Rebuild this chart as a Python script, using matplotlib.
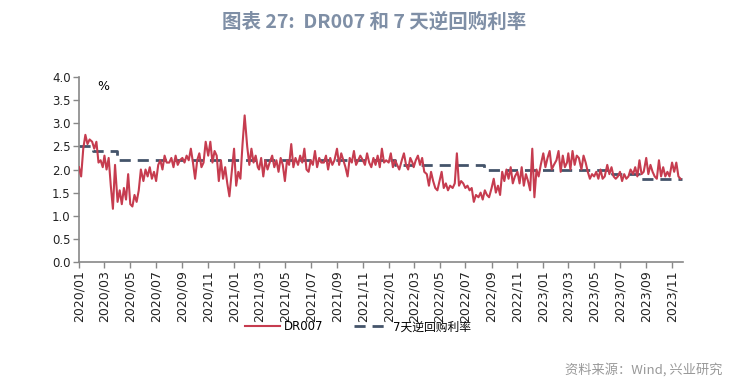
import matplotlib.pyplot as plt
import numpy as np
import pandas as pd

plt.rcParams['font.family'] = ['Noto Sans CJK SC', 'DejaVu Sans']

# DR007, six readings per month (2020/01 .. 2023/11)
dr007_months = [
    [2.05, 1.85, 2.45, 2.75, 2.55, 2.65],  # 2020/01
    [2.60, 2.45, 2.60, 2.15, 2.20, 2.05],
    [2.30, 2.00, 2.25, 1.65, 1.15, 2.10],
    [1.30, 1.55, 1.25, 1.60, 1.35, 1.90],
    [1.25, 1.20, 1.45, 1.30, 1.55, 2.00],
    [1.75, 2.00, 1.85, 2.05, 1.80, 1.95],
    [1.75, 2.10, 2.20, 2.00, 2.30, 2.15],
    [2.15, 2.25, 2.05, 2.30, 2.10, 2.20],
    [2.25, 2.15, 2.30, 2.20, 2.45, 2.15],
    [1.80, 2.20, 2.35, 2.05, 2.15, 2.60],
    [2.30, 2.60, 2.15, 2.40, 2.30, 1.75],
    [2.20, 1.80, 2.05, 1.70, 1.42, 1.90],
    [2.45, 1.65, 1.95, 1.80, 2.55, 3.17],  # 2021/01
    [2.50, 2.10, 2.45, 2.15, 2.30, 2.05],
    [2.00, 2.25, 1.85, 2.20, 2.00, 2.15],
    [2.30, 2.05, 2.20, 1.95, 2.25, 2.10],
    [1.75, 2.20, 2.10, 2.55, 2.05, 2.25],
    [2.10, 2.30, 2.15, 2.45, 2.00, 1.95],
    [2.20, 2.10, 2.40, 2.05, 2.25, 2.15],
    [2.15, 2.30, 2.00, 2.25, 2.10, 2.20],
    [2.45, 2.10, 2.35, 2.20, 2.05, 1.85],
    [2.25, 2.15, 2.40, 2.10, 2.20, 2.30],
    [2.20, 2.10, 2.35, 2.15, 2.05, 2.25],
    [2.10, 2.30, 2.05, 2.45, 2.15, 2.20],
    [2.15, 2.35, 2.05, 2.20, 2.10, 2.00],  # 2022/01
    [2.20, 2.35, 2.10, 2.00, 2.25, 2.15],
    [2.05, 2.20, 2.30, 2.10, 2.25, 1.95],
    [1.90, 1.65, 1.95, 1.75, 1.60, 1.55],
    [1.75, 1.95, 1.60, 1.70, 1.55, 1.65],
    [1.60, 1.70, 2.35, 1.65, 1.75, 1.70],
    [1.60, 1.65, 1.55, 1.60, 1.30, 1.45],
    [1.40, 1.50, 1.35, 1.55, 1.45, 1.40],
    [1.60, 1.80, 1.50, 1.65, 1.45, 1.95],
    [1.75, 2.00, 1.80, 2.05, 1.70, 1.85],
    [1.95, 1.70, 2.05, 1.65, 1.90, 1.75],
    [1.55, 2.45, 1.40, 2.00, 1.85, 2.10],
    [2.35, 2.05, 2.25, 2.40, 2.00, 2.10],  # 2023/01
    [2.20, 2.40, 1.95, 2.30, 2.05, 2.15],
    [2.35, 2.00, 2.40, 2.10, 2.30, 2.25],
    [2.00, 2.30, 2.15, 1.95, 1.80, 1.90],
    [1.85, 1.95, 1.80, 2.00, 1.80, 1.85],
    [2.10, 1.90, 2.05, 1.85, 1.80, 1.85],
    [1.95, 1.75, 1.90, 1.80, 1.85, 2.00],
    [1.90, 2.05, 1.85, 2.20, 1.90, 1.95],
    [2.25, 1.90, 2.10, 1.95, 1.85, 1.80],
    [2.20, 1.85, 2.05, 1.85, 1.95, 1.85],
    [2.15, 1.95, 2.15, 1.85, 1.80],        # 2023/11
]
reading_days = [1, 6, 11, 16, 21, 26]

# 7-day reverse repo rate, changes
repo_dates = ['2020-01-01', '2020-02-03', '2020-03-30', '2022-01-17',
              '2022-08-15', '2023-06-13', '2023-08-15', '2023-11-24']
repo_rates = [2.50, 2.40, 2.20, 2.10, 2.00, 1.90, 1.80, 1.80]

tick_labels = [f'{y}/{m:02d}' for y in range(2020, 2024) for m in range(1, 13, 2)]

dr_dates, dr_vals = [], []
for i, vals in enumerate(dr007_months):
    y, m = 2020 + i // 12, i % 12 + 1
    for d, v in zip(reading_days, vals):
        dr_dates.append(pd.Timestamp(y, m, d))
        dr_vals.append(v)

tick_font = ['DejaVu Sans']

fig = plt.figure(figsize=(7.49, 3.89), dpi=100)
ax = fig.add_axes([0.1055, 0.3265, 0.8065, 0.4755])

ax.plot(dr_dates, dr_vals, color='#C63C4F', lw=1.5, label='DR007', zorder=3)
ax.plot(pd.to_datetime(repo_dates), repo_rates, color='#44546A', lw=2,
        ls=(0, (4, 2.5)), drawstyle='steps-post', label='7天逆回购利率', zorder=2)

ax.set_ylim(0, 4)
ax.set_yticks(np.arange(0, 4.01, 0.5))
ax.set_yticklabels([f'{v:.1f}' for v in np.arange(0, 4.01, 0.5)],
                   fontsize=8.5, family=tick_font, color='#222222')
ax.set_xlim(pd.Timestamp('2020-01-01'), pd.Timestamp('2023-11-27'))
ax.set_xticks([pd.Timestamp(t.replace('/', '-') + '-01') for t in tick_labels])
ax.set_xticklabels(tick_labels, rotation=90, fontsize=9,
                   family=tick_font, color='#222222')

for s in ['top', 'right']:
    ax.spines[s].set_visible(False)
for s in ['left', 'bottom']:
    ax.spines[s].set_color('#888888')
    ax.spines[s].set_linewidth(1.2)
ax.tick_params(axis='both', length=4, color='#888888', width=1, pad=2)

ax.text(0.03, 0.985, '%', transform=ax.transAxes, fontsize=9,
        family=tick_font, va='top', ha='left')

fig.text(0.5, 0.945, '图表 27:  DR007 和 7 天逆回购利率', ha='center', va='center',
         fontsize=14, fontweight='bold', color='#7F8FA6')

fig.legend(loc='center', bbox_to_anchor=(0.478, 0.16), ncol=2, frameon=False,
           prop={'family': ['DejaVu Sans', 'Noto Sans CJK SC'], 'size': 8.5},
           handlelength=3.0, handletextpad=0.3, columnspacing=2.6)

fig.text(0.965, 0.05, '资料来源：Wind, 兴业研究', ha='right', va='center',
         fontsize=9.5, color='#999999')

fig.savefig('out.png', dpi=100)
